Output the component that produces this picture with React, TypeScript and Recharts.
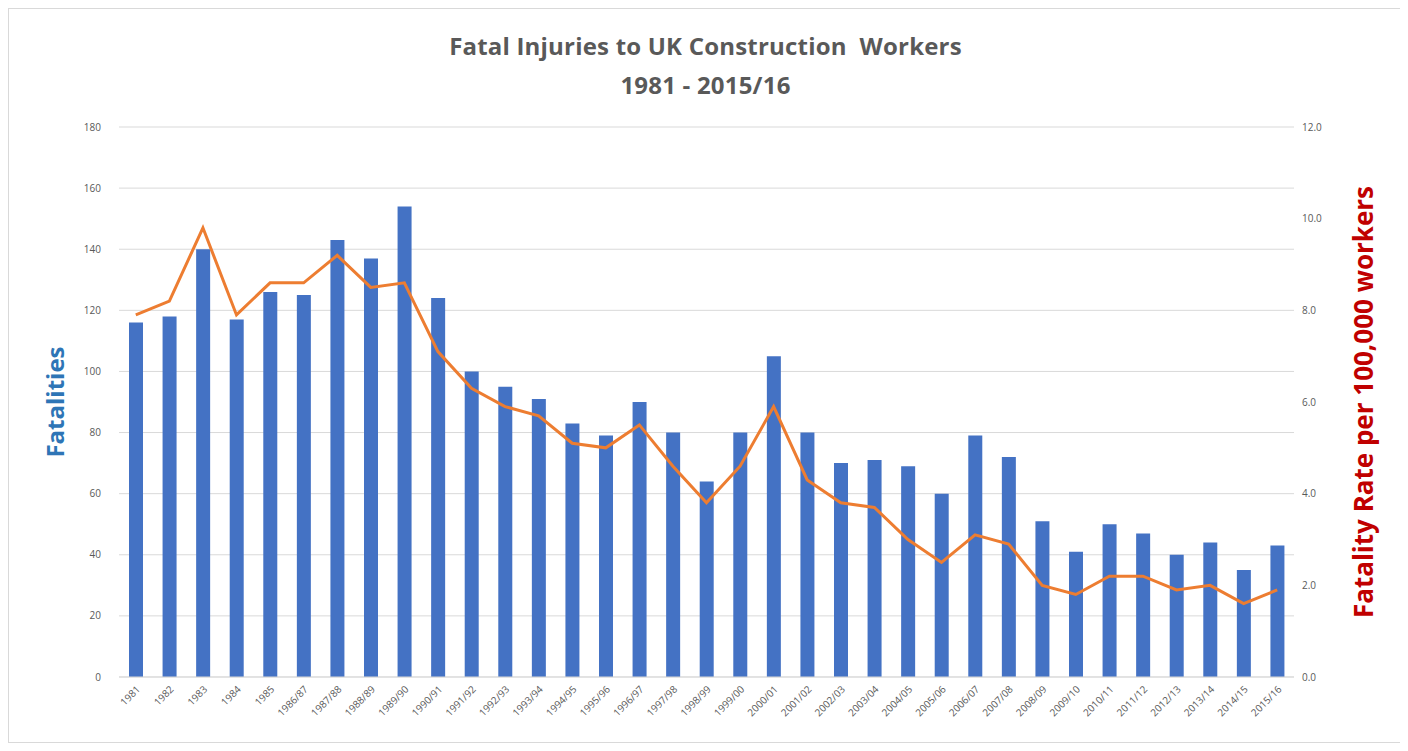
import React from 'react';
import { ComposedChart, Bar, Line, XAxis, YAxis, CartesianGrid } from 'recharts';

// Years / financial years
const categories = [
  '1981', '1982', '1983', '1984', '1985', '1986/87', '1987/88', '1988/89', '1989/90', '1990/91',
  '1991/92', '1992/93', '1993/94', '1994/95', '1995/96', '1996/97', '1997/98', '1998/99', '1999/00', '2000/01',
  '2001/02', '2002/03', '2003/04', '2004/05', '2005/06', '2006/07', '2007/08', '2008/09', '2009/10', '2010/11',
  '2011/12', '2012/13', '2013/14', '2014/15', '2015/16',
];

// Number of fatal injuries
const fatalities = [
  116, 118, 140, 117, 126, 125, 143, 137, 154, 124,
  100, 95, 91, 83, 79, 90, 80, 64, 80, 105,
  80, 70, 71, 69, 60, 79, 72, 51, 41, 50,
  47, 40, 44, 35, 43,
];

// Fatality rate per 100,000 workers
const rates = [
  7.9, 8.2, 9.8, 7.9, 8.6, 8.6, 9.2, 8.5, 8.6, 7.1,
  6.3, 5.9, 5.7, 5.1, 5.0, 5.5, 4.6, 3.8, 4.6, 5.9,
  4.3, 3.8, 3.7, 3.0, 2.5, 3.1, 2.9, 2.0, 1.8, 2.2,
  2.2, 1.9, 2.0, 1.6, 1.9,
];

const leftTicks = [0, 20, 40, 60, 80, 100, 120, 140, 160, 180];
const rightTicks = [0, 2, 4, 6, 8, 10, 12];

const data = categories.map((year, i) => ({
  year,
  fatalities: fatalities[i],
  rate: rates[i],
}));

const FONT = '"Open Sans", "Liberation Sans", Arial, sans-serif';
const TICK_COLOR = '#595959';

const App: React.FC = () => {
  return (
    <div
      style={{
        position: 'relative',
        width: 1395,
        height: 735,
        border: '1px solid #d9d9d9',
        boxSizing: 'border-box',
        background: '#fff',
        fontFamily: FONT,
      }}
    >
      {/* Title */}
      <div
        style={{
          position: 'absolute',
          top: 17,
          left: 0,
          width: '100%',
          textAlign: 'center',
          color: '#595959',
          fontSize: 24,
          fontWeight: 700,
          lineHeight: '39px',
          letterSpacing: 0.2,
        }}
      >
        <div style={{ whiteSpace: 'pre' }}>{'Fatal Injuries to UK Construction  Workers'}</div>
        <div>1981 - 2015/16</div>
      </div>

      <ComposedChart
        width={1393}
        height={733}
        data={data}
        margin={{ top: 118, right: 48, left: 50, bottom: 5 }}
        style={{ fontFamily: FONT }}
      >
        <CartesianGrid yAxisId="left" vertical={false} stroke="#d9d9d9" strokeWidth={1} />
        <XAxis
          dataKey="year"
          interval={0}
          height={60}
          tickLine={false}
          axisLine={{ stroke: '#d9d9d9' }}
          angle={-45}
          textAnchor="end"
          tick={{ fontSize: 10, fill: TICK_COLOR }}
        />
        <YAxis
          yAxisId="left"
          orientation="left"
          width={60}
          domain={[0, 180]}
          ticks={leftTicks}
          tickLine={false}
          axisLine={false}
          tickMargin={12}
          tick={{ fontSize: 10, fill: TICK_COLOR }}
          label={{
            value: 'Fatalities',
            angle: -90,
            position: 'left',
            offset: 4,
            style: { fill: '#2E75B6', fontSize: 24, fontWeight: 700, textAnchor: 'middle' },
          }}
        />
        <YAxis
          yAxisId="right"
          orientation="right"
          width={60}
          domain={[0, 12]}
          ticks={rightTicks}
          tickLine={false}
          axisLine={false}
          tickFormatter={(v: number) => v.toFixed(1)}
          tick={{ fontSize: 10, fill: TICK_COLOR, textAnchor: 'start' }}
          label={{
            value: 'Fatality Rate per 100,000 workers',
            angle: -90,
            position: 'insideRight',
            offset: -10,
            style: { fill: '#C00000', fontSize: 26, fontWeight: 700, textAnchor: 'middle' },
          }}
        />
        <Bar
          yAxisId="left"
          dataKey="fatalities"
          fill="#4472C4"
          barSize={14}
          isAnimationActive={false}
        />
        <Line
          yAxisId="right"
          dataKey="rate"
          type="linear"
          stroke="#ED7D31"
          strokeWidth={3}
          dot={false}
          activeDot={false}
          isAnimationActive={false}
        />
      </ComposedChart>
    </div>
  );
};

export default App;
